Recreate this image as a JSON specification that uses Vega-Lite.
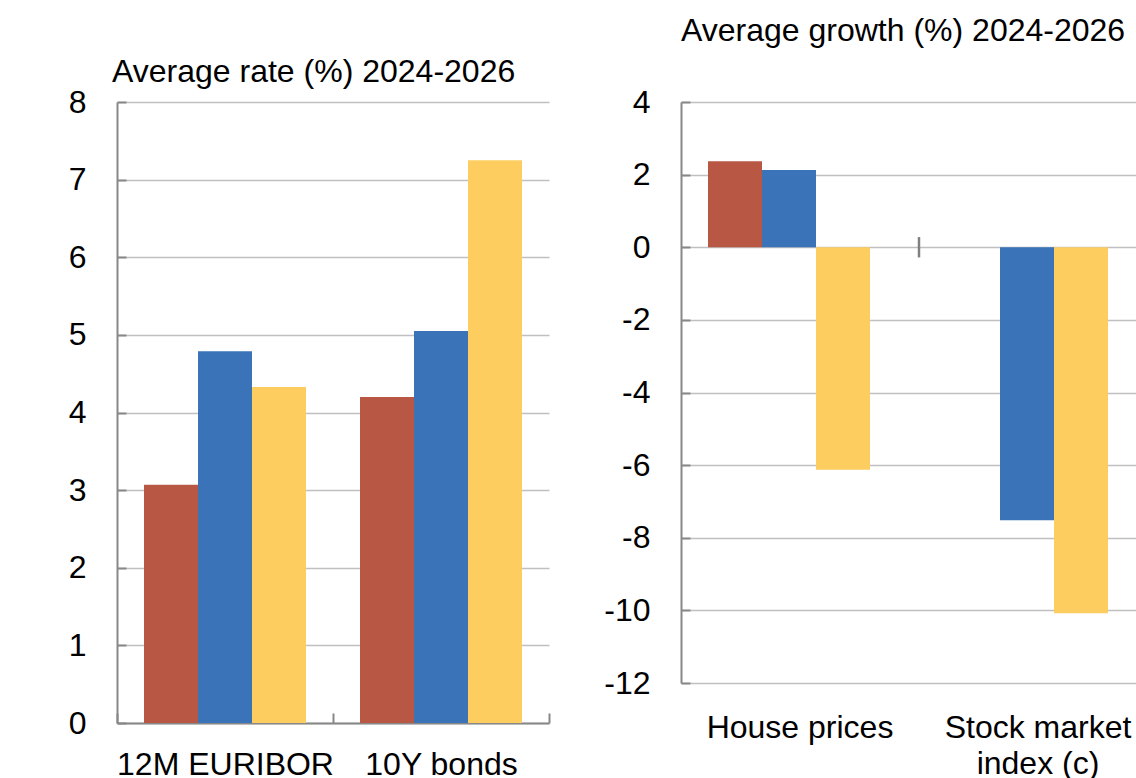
{
  "$schema": "https://vega.github.io/schema/vega-lite/v6.json",
  "background": "white",
  "padding": {"left": 68, "top": 15, "right": 0, "bottom": 0},
  "bounds": "flush",
  "spacing": 132,
  "config": {
    "font": "Liberation Sans",
    "view": {"stroke": null},
    "axis": {
      "labelFont": "Liberation Sans",
      "labelFontSize": 32,
      "labelColor": "#000000",
      "labelLimit": 500,
      "labelOverlap": false,
      "domainColor": "#888888",
      "domainWidth": 2,
      "tickColor": "#888888",
      "tickWidth": 2,
      "gridColor": "#c0c0c0",
      "gridWidth": 1.5,
      "title": null
    },
    "title": {"font": "Liberation Sans", "fontSize": 32, "fontWeight": "normal", "color": "#000000", "anchor": "start", "frame": "group", "baseline": "alphabetic"}
  },
  "datasets": {
    "rates": [
      {"category": "12M EURIBOR", "series": "A", "value": 3.07},
      {"category": "12M EURIBOR", "series": "B", "value": 4.79},
      {"category": "12M EURIBOR", "series": "C", "value": 4.33},
      {"category": "10Y bonds", "series": "A", "value": 4.20},
      {"category": "10Y bonds", "series": "B", "value": 5.05},
      {"category": "10Y bonds", "series": "C", "value": 7.25}
    ],
    "growth": [
      {"category": "House prices", "series": "A", "value": 2.37},
      {"category": "House prices", "series": "B", "value": 2.13},
      {"category": "House prices", "series": "C", "value": -6.13},
      {"category": "Stock market index (c)", "series": "A", "value": 0},
      {"category": "Stock market index (c)", "series": "B", "value": -7.52},
      {"category": "Stock market index (c)", "series": "C", "value": -10.08}
    ]
  },
  "hconcat": [
    {
      "width": 432,
      "height": 621,
      "title": {"text": "Average rate (%) 2024-2026", "offset": -3, "dx": -5},
      "data": {"name": "rates"},
      "mark": {"type": "bar"},
      "encoding": {
        "x": {
          "field": "category", "type": "nominal", "sort": ["12M EURIBOR", "10Y bonds"],
          "scale": {"paddingInner": 0, "paddingOuter": 0},
          "axis": {"labelAngle": 0, "tickBand": "extent", "tickSize": -10, "labelPadding": 36, "grid": false}
        },
        "xOffset": {"field": "series", "type": "nominal", "scale": {"paddingInner": 0, "paddingOuter": 0.5}},
        "y": {
          "field": "value", "type": "quantitative",
          "scale": {"domain": [0, 8], "nice": false},
          "axis": {"values": [0, 1, 2, 3, 4, 5, 6, 7, 8], "tickSize": -9, "labelPadding": 40, "grid": true}
        },
        "color": {
          "field": "series", "type": "nominal", "legend": null,
          "scale": {"domain": ["A", "B", "C"], "range": ["#B95745", "#3A73B7", "#FDCE5F"]}
        }
      }
    },
    {
      "width": 455,
      "height": 581,
      "title": {"text": "Average growth (%) 2024-2026", "offset": 38},
      "layer": [
        {
          "data": {"name": "growth"},
          "mark": {"type": "bar"},
          "encoding": {
            "x": {
              "field": "category", "type": "nominal", "sort": ["House prices", "Stock market index (c)"],
              "scale": {"paddingInner": 0, "paddingOuter": 0, "range": [0, 476]},
              "axis": {
                "labelAngle": 0, "domain": false, "ticks": false, "labelPadding": 29, "grid": false,
                "labelLineHeight": 36,
                "labelExpr": "datum.value == 'Stock market index (c)' ? ['Stock market', 'index (c)'] : datum.label"
              }
            },
            "xOffset": {"field": "series", "type": "nominal", "scale": {"paddingInner": 0, "paddingOuter": 0.5}},
            "y": {
              "field": "value", "type": "quantitative",
              "scale": {"domain": [-12, 4], "nice": false},
              "axis": {"values": [-12, -10, -8, -6, -4, -2, 0, 2, 4], "tickSize": -9, "labelPadding": 40, "grid": true, "labelExpr": "'' + datum.value"}
            },
            "color": {
              "field": "series", "type": "nominal", "legend": null,
              "scale": {"domain": ["A", "B", "C"], "range": ["#B95745", "#3A73B7", "#FDCE5F"]}
            }
          }
        },
        {
          "mark": {"type": "rule", "color": "#888888", "strokeWidth": 2.5},
          "encoding": {"y": {"datum": 0}}
        },
        {
          "data": {"values": [{"category": "Stock market index (c)"}]},
          "mark": {"type": "rule", "color": "#808080", "strokeWidth": 2.5},
          "encoding": {
            "x": {"field": "category", "type": "nominal", "bandPosition": 0},
            "y": {"datum": 0.28},
            "y2": {"datum": -0.28}
          }
        }
      ]
    }
  ]
}
